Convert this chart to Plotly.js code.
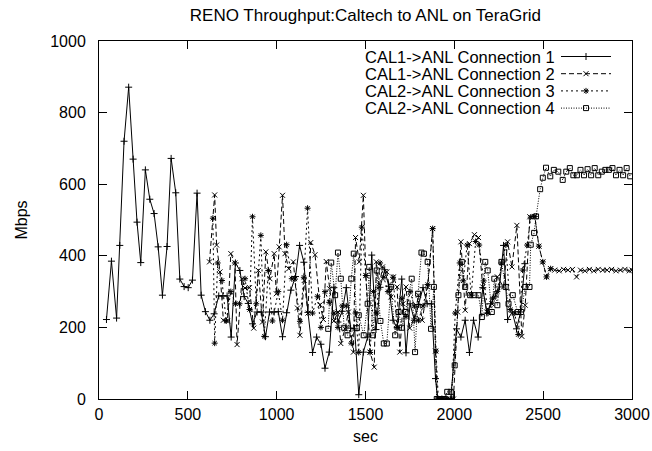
<!DOCTYPE html>
<html><head><meta charset="utf-8">
<script src="https://cdn.plot.ly/plotly-3.0.1.min.js"></script>
<style>html,body{margin:0;padding:0;background:#fff}#chart{width:652px;height:451px}</style>
</head><body><div id="chart"></div>
<script>
const seriesNames = ["CAL1->ANL Connection 1","CAL1->ANL Connection 2","CAL2->ANL Connection 3","CAL2->ANL Connection 4"];

const c1x = [42,70,99,117,141,167,192,214,235,261,286,310,333,357,383,406,432,455,479,502,526,552,575,599,624,648,674,697,721,744,768,793,817,840,864,890,913,937,960,986,1009,1033,1056,1080,1106,1129,1153,1176,1202,1225,1249,1272,1296,1322,1345,1369,1392,1416,1439,1462,1488,1512,1535,1559,1582,1608,1631,1655,1678,1704,1728,1751,1775,1798,1824,1847,1871,1894,1906,1930,1955,1980,2012,2037,2061,2085,2108,2134,2160,2183,2204,2230,2254,2277,2300,2326,2350,2373,2397];
const c1y = [222,385,226,429,720,871,670,494,381,640,558,518,425,290,426,672,576,335,314,311,332,575,290,244,220,238,288,288,288,173,380,359,286,267,210,243,243,174,243,243,244,174,241,304,342,429,382,242,130,173,153,86,131,311,215,245,311,198,196,12,131,173,402,194,312,361,315,220,199,335,129,266,220,264,311,266,266,57,0,0,0,0,196,173,220,130,220,173,311,240,266,287,313,429,222,243,196,243,378];

const c2x = [622,651,662,681,700,723,742,765,777,805,822,847,871,897,920,939,962,986,998,1014,1033,1047,1068,1094,1117,1131,1155,1176,1192,1216,1244,1263,1279,1298,1322,1345,1361,1385,1404,1432,1444,1465,1488,1502,1526,1549,1561,1577,1596,1620,1643,1657,1678,1693,1711,1728,1749,1772,1798,1819,1850,1878,1894,1905,1930,1955,1975,1995,2019,2037,2061,2085,2113,2136,2160,2183,2211,2242,2277,2300,2324,2352,2380,2399,2425,2453,2476,2498,2519,2542,2565,2590,2615,2640,2665,2688,2710,2735,2760,2785,2810,2835,2860,2885,2910,2935,2960,2985,3000];
const c2y = [383,570,430,355,220,218,406,380,152,336,310,311,198,359,215,411,336,406,294,425,569,406,364,383,254,178,331,240,437,403,263,222,384,308,218,243,155,196,243,131,451,383,569,345,131,89,383,313,369,355,285,341,313,131,266,313,198,220,290,220,313,476,134,0,0,0,0,0,243,439,248,434,459,451,313,243,266,341,313,439,369,485,175,262,509,510,427,383,341,364,360,358,362,360,362,341,360,358,362,358,362,360,360,362,358,360,362,358,360];

const c3x = [641,651,668,692,716,742,768,791,822,847,864,885,911,930,953,976,1009,1033,1056,1085,1103,1131,1153,1174,1202,1230,1249,1272,1296,1322,1345,1369,1392,1420,1444,1462,1479,1502,1526,1545,1563,1582,1603,1626,1655,1678,1704,1728,1751,1775,1798,1824,1850,1878,1897,1910,1935,1960,1985,2005,2030,2050,2072,2095,2120,2140,2165,2190,2215,2242,2265,2290,2315,2340,2360,2385,2410,2430,2453,2476,2498,2519,2542];
const c3y = [505,156,380,331,218,300,266,266,336,250,509,266,457,175,359,218,300,220,431,336,335,217,340,533,240,287,200,300,270,240,200,260,260,156,240,130,480,345,130,300,240,380,340,300,340,200,280,230,300,260,220,260,320,476,134,0,0,0,0,240,380,330,430,290,440,430,330,240,280,300,380,430,250,240,180,360,430,508,510,427,383,341,364];

const c4x = [1290,1307,1329,1345,1361,1380,1399,1420,1434,1451,1462,1490,1512,1521,1542,1563,1584,1603,1620,1643,1667,1686,1704,1725,1760,1779,1796,1815,1829,1850,1869,1885,1901,1920,1940,1960,1980,2002,2023,2042,2061,2089,2113,2136,2155,2174,2188,2211,2225,2242,2265,2289,2305,2329,2357,2376,2399,2423,2430,2449,2460,2483,2498,2516,2540,2560,2585,2610,2630,2650,2670,2690,2710,2730,2750,2770,2790,2810,2830,2850,2870,2890,2910,2930,2950,2970,2990];
const c4y = [196,381,290,409,336,199,178,336,406,198,234,178,266,369,178,359,218,155,155,313,178,243,199,243,336,131,294,409,406,383,196,313,0,0,0,20,20,94,290,383,313,290,290,290,229,383,359,243,336,262,383,313,266,290,243,243,313,313,431,464,510,586,618,646,622,640,635,612,635,645,625,625,640,625,642,625,645,625,635,640,640,645,625,640,625,645,622];

const xTicks = [0,500,1000,1500,2000,2500,3000];
const yTicks = [0,200,400,600,800,1000];

const FONT = "Liberation Sans, Arial, Helvetica, sans-serif";
const styles = [
  {dash:"solid", symbol:"cross-thin-open", size:5},
  {dash:"5px,3px", symbol:"x-thin-open", size:5},
  {dash:"2px,3px", symbol:"asterisk-open", size:5},
  {dash:"1px,1.5px", symbol:"square-open", size:5}
];
const xs=[c1x,c2x,c3x,c4x], ys=[c1y,c2y,c3y,c4y];
const traces = xs.map((x,i)=>({
  type:"scatter", mode:"lines+markers", x:x, y:ys[i], name:seriesNames[i],
  line:{color:"#000", width:1, dash:styles[i].dash},
  marker:{symbol:styles[i].symbol, size:styles[i].size, color:"#000", line:{color:"#000", width:1}},
  showlegend:false, hoverinfo:"skip"
}));

// custom gnuplot-like legend (text right, sample on right side)
const annotations=[], shapes=[];
const legTop = 56.5, legStep = 17.2;
const W=652, H=451, L=99, R=20, T=41, B=52;
const pw=W-L-R, ph=H-T-B;
function px(xp){return (xp-L)/pw;}
function py(yp){return 1-(yp-T)/ph;}
seriesNames.forEach((n,i)=>{
  const yy = legTop + i*legStep;
  annotations.push({xref:"paper",yref:"paper",x:px(556),y:py(yy),xanchor:"right",yanchor:"middle",
    height:16, borderpad:0, text:n,showarrow:false,font:{family:FONT,size:16.5,color:"#000"}});
  shapes.push({type:"line",xref:"paper",yref:"paper",x0:px(561),x1:px(611),y0:py(yy),y1:py(yy),
    line:{color:"#000",width:1,dash:styles[i].dash}});
});
// legend marker samples via overlay axis
const legMarkX = [586,586,586,586].map(px);
const legMarkY = [0,1,2,3].map(i=>py(legTop+i*legStep));
styles.forEach((s,i)=>{
  traces.push({type:"scatter",mode:"markers",x:[legMarkX[i]],y:[legMarkY[i]],xaxis:"x2",yaxis:"y2",
    marker:{symbol:s.symbol,size:s.size,color:"#000",line:{color:"#000",width:1}},showlegend:false,hoverinfo:"skip"});
});

const layout = {
  width:W, height:H,
  margin:{l:L,r:R,t:T,b:B,pad:0},
  paper_bgcolor:"#fff", plot_bgcolor:"#fff",
  font:{family:FONT,size:16,color:"#000"},
  title:{text:"RENO Throughput:Caltech to ANL on TeraGrid", x:0.5605, xanchor:"center", y:0.966, yanchor:"middle",
    font:{family:FONT,size:17,color:"#000"}},
  showlegend:false,
  xaxis:{range:[0,3000], tickvals:xTicks, ticktext:xTicks.map(String), ticks:"inside", ticklen:8, tickwidth:1,
    tickcolor:"#000", showline:true, linecolor:"#000", linewidth:1, mirror:"ticks", showgrid:false, zeroline:false,
    ticklabelstandoff:1,
    tickfont:{family:FONT,size:16}, title:{text:"sec", font:{family:FONT,size:16}, standoff:8}},
  yaxis:{range:[0,1000], tickvals:yTicks, ticktext:yTicks.map(String), ticks:"inside", ticklen:8, tickwidth:1,
    tickcolor:"#000", showline:true, linecolor:"#000", linewidth:1, mirror:"ticks", showgrid:false, zeroline:false,
    ticklabelstandoff:9,
    tickfont:{family:FONT,size:16}, title:{text:"Mbps", font:{family:FONT,size:16}, standoff:18}},
  xaxis2:{overlaying:"x", range:[0,1], visible:false, fixedrange:true},
  yaxis2:{overlaying:"y", range:[0,1], visible:false, fixedrange:true},
  annotations:annotations, shapes:shapes
};
Plotly.newPlot("chart", traces, layout, {displayModeBar:false, staticPlot:true});
</script></body></html>
